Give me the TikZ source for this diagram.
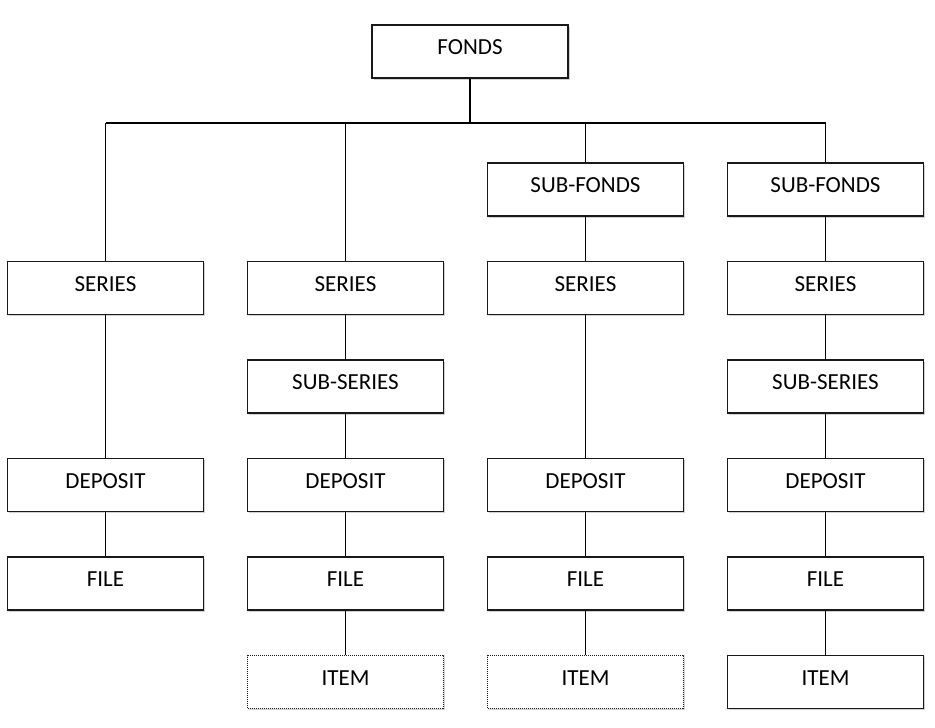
\documentclass[tikz,border=0pt]{standalone}
\usepackage{fontspec}
\setmainfont{Carlito}
\usetikzlibrary{shadows}
\begin{document}
\begin{tikzpicture}[x=1pt,y=-1pt,
  box/.style={draw=black!90, line width=1.3pt, fill=white, minimum width=196pt, minimum height=53pt,
     inner sep=0pt, text depth=8pt, font=\fontsize{23}{27}\selectfont,
     drop shadow={opacity=0.3, shadow xshift=1.5pt, shadow yshift=-1.5pt, fill=black!60}},
  dotbox/.style={box, line width=1pt, densely dotted},
  conn/.style={draw=black, line width=1.2pt}]
\useasboundingbox (0,0) rectangle (935,728);
\node[box] (fonds) at (470,51.5) {FONDS};
% column 1
\node[box] (s1) at (105.5,288) {SERIES};
\node[box] (d1) at (105.5,485) {DEPOSIT};
\node[box] (f1) at (105.5,583.5) {FILE};
% column 2
\node[box] (s2) at (345.5,288) {SERIES};
\node[box] (ss2) at (345.5,386.5) {SUB-SERIES};
\node[box] (d2) at (345.5,485) {DEPOSIT};
\node[box] (f2) at (345.5,583.5) {FILE};
\node[dotbox] (i2) at (345.5,682) {ITEM};
% column 3
\node[box] (sf3) at (585.5,189.5) {SUB-FONDS};
\node[box] (s3) at (585.5,288) {SERIES};
\node[box] (d3) at (585.5,485) {DEPOSIT};
\node[box] (f3) at (585.5,583.5) {FILE};
\node[dotbox] (i3) at (585.5,682) {ITEM};
% column 4
\node[box] (sf4) at (825.5,189.5) {SUB-FONDS};
\node[box] (s4) at (825.5,288) {SERIES};
\node[box] (ss4) at (825.5,386.5) {SUB-SERIES};
\node[box] (d4) at (825.5,485) {DEPOSIT};
\node[box] (f4) at (825.5,583.5) {FILE};
\node[box] (i4) at (825.5,682) {ITEM};
% bus
\coordinate (bus) at (470,123);
\coordinate (b1) at (s1.north |- bus);
\coordinate (b2) at (s2.north |- bus);
\coordinate (b3) at (sf3.north |- bus);
\coordinate (b4) at (sf4.north |- bus);
\path[conn] (fonds.south) -- (bus);
\path[conn] (b1) -- (b4);
\path[conn] (b1) -- (s1.north);
\path[conn] (b2) -- (s2.north);
\path[conn] (b3) -- (sf3.north);
\path[conn] (b4) -- (sf4.north);
\path[conn] (s1) -- (d1);
\path[conn] (d1) -- (f1);
\path[conn] (s2) -- (ss2);
\path[conn] (ss2) -- (d2);
\path[conn] (d2) -- (f2);
\path[conn] (f2) -- (i2);
\path[conn] (sf3) -- (s3);
\path[conn] (s3) -- (d3);
\path[conn] (d3) -- (f3);
\path[conn] (f3) -- (i3);
\path[conn] (sf4) -- (s4);
\path[conn] (s4) -- (ss4);
\path[conn] (ss4) -- (d4);
\path[conn] (d4) -- (f4);
\path[conn] (f4) -- (i4);
\end{tikzpicture}
\end{document}
